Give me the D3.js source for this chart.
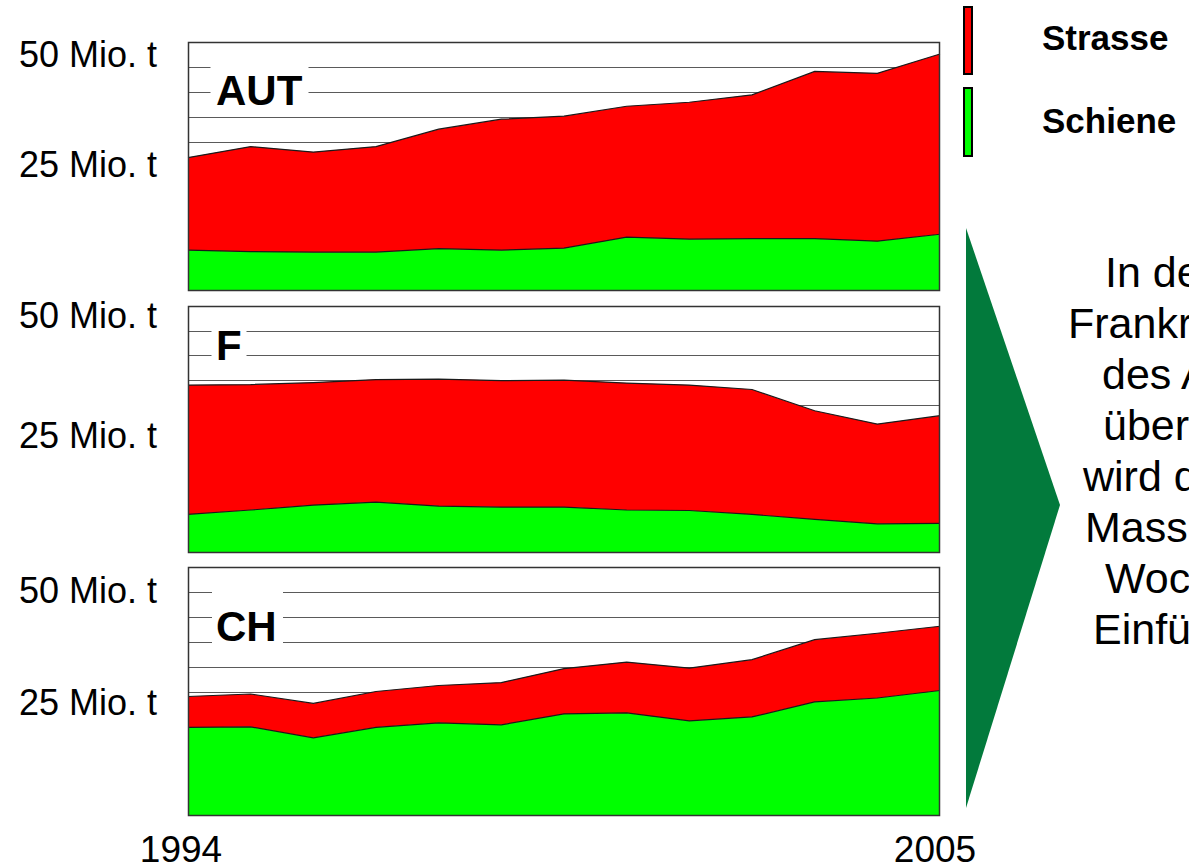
<!DOCTYPE html>
<html><head><meta charset="utf-8">
<script src="https://cdn.jsdelivr.net/npm/d3@7"></script>
<style>html,body{margin:0;padding:0;background:#fff;overflow:hidden}svg{display:block}</style>
</head><body>
<svg id="chart" width="1189" height="867"></svg>
<script>
// ---- data ----
const countries = ["AUT", "F", "CH"];
const seriesKeys = ["Schiene", "Strasse"];
const legendLabels = ["Strasse", "Schiene"];
const xTickLabels = ["1994", "2005"];
const yTickLabels = ["50 Mio. t", "25 Mio. t"];
const yTickValues = [50, 25];
// 13 data points per country, million tonnes
const autSchiene = [8.2, 7.9, 7.8, 7.8, 8.5, 8.2, 8.6, 10.8, 10.4, 10.5, 10.5, 10.0, 11.4];
const autStrasse = [18.6, 21.1, 20.1, 21.2, 24.0, 26.3, 26.5, 26.3, 27.5, 28.9, 33.6, 33.7, 36.2];
const fSchiene = [7.8, 8.7, 9.7, 10.3, 9.5, 9.3, 9.3, 8.7, 8.6, 7.8, 6.8, 5.9, 6.0];
const fStrasse = [26.2, 25.4, 24.8, 24.8, 25.7, 25.6, 25.7, 25.7, 25.4, 25.3, 22.0, 20.2, 21.8];
const chSchiene = [17.8, 17.9, 15.7, 17.8, 18.7, 18.3, 20.5, 20.7, 19.1, 19.9, 22.9, 23.7, 25.2];
const chStrasse = [6.2, 6.6, 6.9, 7.2, 7.5, 8.5, 9.1, 10.2, 10.6, 11.5, 12.5, 13.0, 12.9];
const noteLines = [
  "In den Ländern",
  "Frankreich und Schweiz",
  "des Alpenraums",
  "überwiegt die Strasse,",
  "wird der Transit durch",
  "Massnahmen wie",
  "Wochenendfahrverbote",
  "Einführung"
];

// ---- layout ----
const FONT = "'Liberation Sans', Arial, sans-serif";
const colors = { Schiene: "#00ff00", Strasse: "#ff0000" };
const plotX0 = 188, plotX1 = 940;
const panels = [
  { name: countries[0], schiene: autSchiene, strasse: autStrasse, top: 42, bottom: 291,
    labelBase: [67, 177], box: [210.5, 60, 98, 52], titleBase: 104.5 },
  { name: countries[1], schiene: fSchiene, strasse: fStrasse, top: 306, bottom: 553,
    labelBase: [328, 448], box: [211.5, 322, 35, 50], titleBase: 360 },
  { name: countries[2], schiene: chSchiene, strasse: chStrasse, top: 567, bottom: 816,
    labelBase: [603, 715], box: [212, 585, 71, 70], titleBase: 640.5 }
];

const svg = d3.select("#chart");
const nPts = autSchiene.length;
const x = d3.scaleLinear().domain([0, nPts - 1]).range([plotX0, plotX1]);
const gridValues = [5, 10, 15, 20, 25, 30, 35, 40, 45];

panels.forEach(p => {
  const y = d3.scaleLinear().domain([0, 50]).range([p.bottom, p.top]);
  const g = svg.append("g");
  const rows = p.schiene.map((v, i) => ({ i, Schiene: v, Strasse: p.strasse[i] }));
  const stacked = d3.stack().keys(seriesKeys)(rows);

  // gridlines
  g.selectAll("line.grid").data(gridValues).join("line")
    .attr("x1", plotX0).attr("x2", plotX1)
    .attr("y1", d => Math.round(y(d)) + 0.5).attr("y2", d => Math.round(y(d)) + 0.5)
    .attr("stroke", "#5a5a5a").attr("stroke-width", 1);

  // white label box interrupting the gridlines
  g.append("rect").attr("x", p.box[0]).attr("y", p.box[1])
    .attr("width", p.box[2]).attr("height", p.box[3]).attr("fill", "#fff");

  const area = d3.area().x(d => x(d.data.i)).y0(d => y(d[0])).y1(d => y(d[1]));
  const topLine = d3.line().x(d => x(d.data.i)).y(d => y(d[1]));
  g.selectAll("path.area").data(stacked).join("path")
    .attr("d", area).attr("fill", d => colors[d.key]).attr("stroke", "none");
  g.selectAll("path.edge").data(stacked).join("path")
    .attr("d", topLine).attr("fill", "none").attr("stroke", "#1a1a1a").attr("stroke-width", 1.2);

  // frame
  g.append("rect").attr("x", plotX0 + 0.5).attr("y", p.top + 0.5)
    .attr("width", plotX1 - plotX0 - 1).attr("height", p.bottom - p.top - 1)
    .attr("fill", "none").attr("stroke", "#333").attr("stroke-width", 1.5);

  // title
  g.append("text").attr("x", 216).attr("y", p.titleBase)
    .attr("font-family", FONT).attr("font-weight", "bold").attr("font-size", 42)
    .attr("fill", "#000").text(p.name);

  // y labels
  g.selectAll("text.ylab").data(yTickLabels).join("text")
    .attr("x", 157).attr("y", (d, i) => p.labelBase[i])
    .attr("text-anchor", "end").attr("font-family", FONT).attr("font-size", 36)
    .attr("fill", "#000").text(d => d);
});

// x labels
svg.selectAll("text.xlab").data(xTickLabels).join("text")
  .attr("x", (d, i) => x(i === 0 ? 0 : nPts - 1) + (i === 0 ? -7 : -5))
  .attr("y", 862).attr("text-anchor", "middle")
  .attr("font-family", FONT).attr("font-size", 37).attr("fill", "#000").text(d => d);

// legend
const legendY = [[7, 67], [88, 68]];
const legendText = [50, 133];
legendLabels.forEach((lab, i) => {
  svg.append("rect").attr("x", 964).attr("y", legendY[i][0]).attr("width", 8).attr("height", legendY[i][1])
    .attr("fill", colors[lab]).attr("stroke", "#000").attr("stroke-width", 2);
  svg.append("text").attr("x", 1042).attr("y", legendText[i])
    .attr("font-family", FONT).attr("font-weight", "bold").attr("font-size", 35)
    .attr("fill", "#000").text(lab);
});

// arrow triangle
const tri = [[966, 228], [1060, 505], [966, 808]];
svg.append("path").attr("d", d3.line()(tri) + "Z").attr("fill", "#027a3c");

// note text (runs off the right edge, as in the original slide)
const noteX = [1105, 1068, 1102, 1103, 1083, 1085, 1105, 1093];
svg.selectAll("text.note").data(noteLines).join("text")
  .attr("x", (d, i) => noteX[i]).attr("y", (d, i) => 287 + 51 * i)
  .attr("font-family", FONT).attr("font-size", 43).attr("fill", "#000").text(d => d);
</script>
</body></html>
